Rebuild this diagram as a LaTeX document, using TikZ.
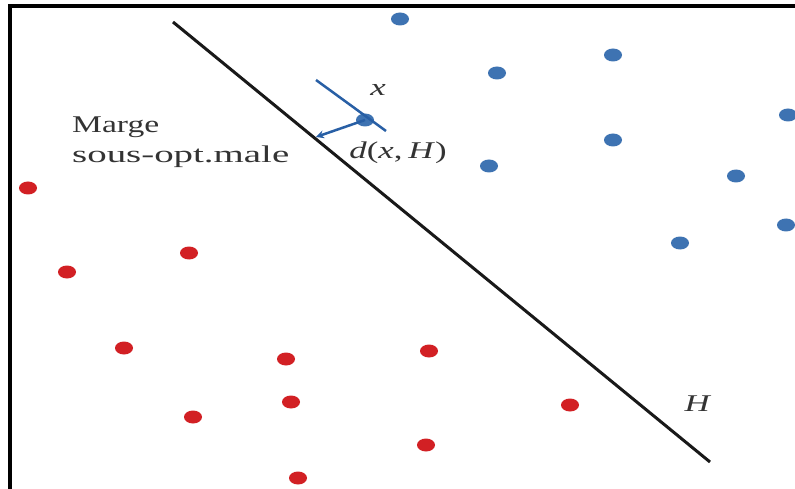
\documentclass[tikz,border=0pt]{standalone}
\usepackage{fontspec}
\setmainfont{Liberation Serif}
\usetikzlibrary{shapes.geometric,arrows.meta}
\definecolor{dotblue}{RGB}{62,115,178}
\definecolor{linblue}{RGB}{40,95,165}
\definecolor{dotred}{RGB}{210,32,36}
\tikzset{
  bdot/.style={ellipse,fill=dotblue,minimum width=18pt,minimum height=13pt,inner sep=0pt},
  rdot/.style={ellipse,fill=dotred,minimum width=18pt,minimum height=13pt,inner sep=0pt},
  lbl/.style={font=\fontsize{24}{30}\selectfont,inner sep=0pt,text=black!80},
  hyper/.style={line width=3pt,black!90},
}
\newcommand{\wide}[2][1.45]{\scalebox{#1}[1]{#2}}
\begin{document}
\begin{tikzpicture}[x=1pt,y=-1pt]
\useasboundingbox (0,0) rectangle (795,489);
\fill[white] (0,0) rectangle (795,489);
% frame
\coordinate (fbl) at (10,489);
\coordinate (ftl) at (10,6);
\coordinate (ftr) at (795,6);
\draw[line width=3.5pt,black] (fbl) -- (ftl) -- (ftr);
% hyperplane H
\coordinate (h1) at (173,22);
\coordinate (h2) at (710,462);
\draw[hyper] (h1) -- (h2);
% blue points
\node[bdot] (b1) at (400,19) {};
\node[bdot] (b2) at (497,73) {};
\node[bdot] (b3) at (613,55) {};
\node[bdot] (b4) at (788,115) {};
\node[bdot] (b5) at (613,140) {};
\node[bdot] (b6) at (489,166) {};
\node[bdot] (b7) at (736,176) {};
\node[bdot] (b8) at (680,243) {};
\node[bdot] (b9) at (786,225) {};
\node[bdot] (xp) at (365,120) {};
% red points
\node[rdot] (r1) at (28,188) {};
\node[rdot] (r2) at (67,272) {};
\node[rdot] (r3) at (189,253) {};
\node[rdot] (r4) at (124,348) {};
\node[rdot] (r5) at (286,359) {};
\node[rdot] (r6) at (429,351) {};
\node[rdot] (r7) at (193,417) {};
\node[rdot] (r8) at (291,402) {};
\node[rdot] (r9) at (570,405) {};
\node[rdot] (r10) at (426,445) {};
\node[rdot] (r11) at (298,478) {};
% blue line parallel to H through x
\coordinate (p1) at (316,80);
\coordinate (p2) at (386,131);
\draw[linblue,line width=2.5pt] (p1) -- (p2);
% distance arrow
\coordinate (foot) at (316,137);
\draw[linblue,line width=2.5pt,-{Stealth[length=8pt,width=8pt]}] (xp.center) -- (foot);
% labels
\node[lbl] (xl) at (378,90) {\wide{\textit{x}}};
\node[lbl] (dl) at (398,153) {\wide{\textit{d}(\textit{x},\,\textit{H})}};
\node[lbl] (hl) at (698,404) {\wide{\textit{H}}};
\node[lbl,anchor=west] (m1) at (72,127) {\wide[1.4]{Marge}};
\node[lbl,anchor=west] (m2) at (72,157) {\wide[1.62]{sous-opt.male}};
\end{tikzpicture}
\end{document}
